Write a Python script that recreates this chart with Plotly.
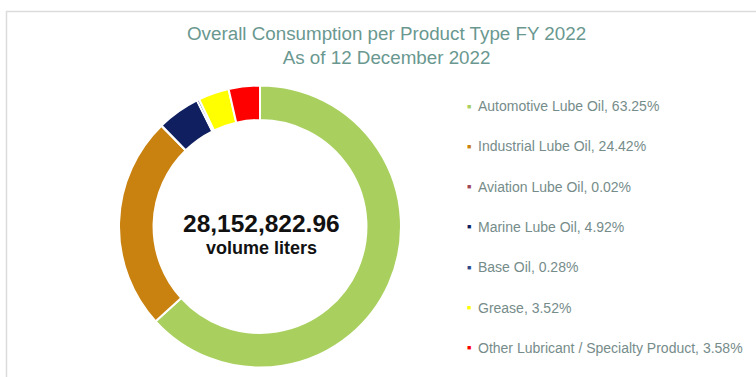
import plotly.graph_objects as go

categories = ["Automotive Lube Oil", "Industrial Lube Oil", "Aviation Lube Oil",
              "Marine Lube Oil", "Base Oil", "Grease",
              "Other Lubricant / Specialty Product"]
shares = [63.25, 24.42, 0.02, 4.92, 0.28, 3.52, 3.58]
colors = ["#A9D05F", "#C9820F", "#A0475A", "#0F1F5F", "#2E4A86", "#FFFF00", "#FF0000"]
total_volume = "28,152,822.96"
title_lines = ["Overall Consumption per Product Type FY 2022", "As of 12 December 2022"]

W, H = 756, 377
TITLE_C = "#6a9890"
TXT = "#768c8a"
FONT = "Liberation Sans, Arial, sans-serif"

fig = go.Figure()
fig.add_trace(go.Pie(
    labels=categories, values=shares, sort=False, direction="clockwise",
    rotation=0, hole=0.755, textinfo="none", hoverinfo="label+percent",
    marker=dict(colors=colors, line=dict(color="white", width=2)),
    domain=dict(x=[119 / W, 401 / W], y=[9.5 / H, 291.5 / H]),
    showlegend=False,
))

annotations = [
    dict(text="<br>".join(title_lines), x=386 / W, y=1 - 46 / H, xref="paper", yref="paper",
         showarrow=False, font=dict(family=FONT, size=18.8, color=TITLE_C), align="center",
         xanchor="center", yanchor="middle"),
    dict(text="<b>" + total_volume + "</b>", x=261 / W, y=1 - 223 / H, xref="paper", yref="paper",
         showarrow=False, font=dict(family=FONT, size=24.5, color="#111111"),
         xanchor="center", yanchor="middle"),
    dict(text="<b>volume liters</b>", x=261 / W, y=1 - 248 / H, xref="paper", yref="paper",
         showarrow=False, font=dict(family=FONT, size=18, color="#111111"),
         xanchor="center", yanchor="middle"),
]

y0, dy = 106, 40.3
for i, (cat, s, c) in enumerate(zip(categories, shares, colors)):
    yy = 1 - (y0 + i * dy) / H
    annotations.append(dict(text="■", x=469 / W, y=yy, xref="paper", yref="paper",
                            showarrow=False, font=dict(family=FONT, size=7, color=c),
                            xanchor="center", yanchor="middle"))
    annotations.append(dict(text=f"{cat}, {s:.2f}%", x=476 / W, y=yy, xref="paper", yref="paper",
                            showarrow=False, font=dict(family=FONT, size=14, color=TXT),
                            xanchor="left", yanchor="middle"))

fig.update_layout(
    width=W, height=H, autosize=False,
    margin=dict(l=0, r=0, t=0, b=0),
    paper_bgcolor="white", plot_bgcolor="white",
    annotations=annotations,
    shapes=[dict(type="rect", xref="paper", yref="paper",
                 x0=6.5 / W, x1=1.02, y0=-0.02, y1=1 - 11.5 / H,
                 line=dict(color="#dcdcdc", width=1.5))],
)

fig.write_html("out.html")
